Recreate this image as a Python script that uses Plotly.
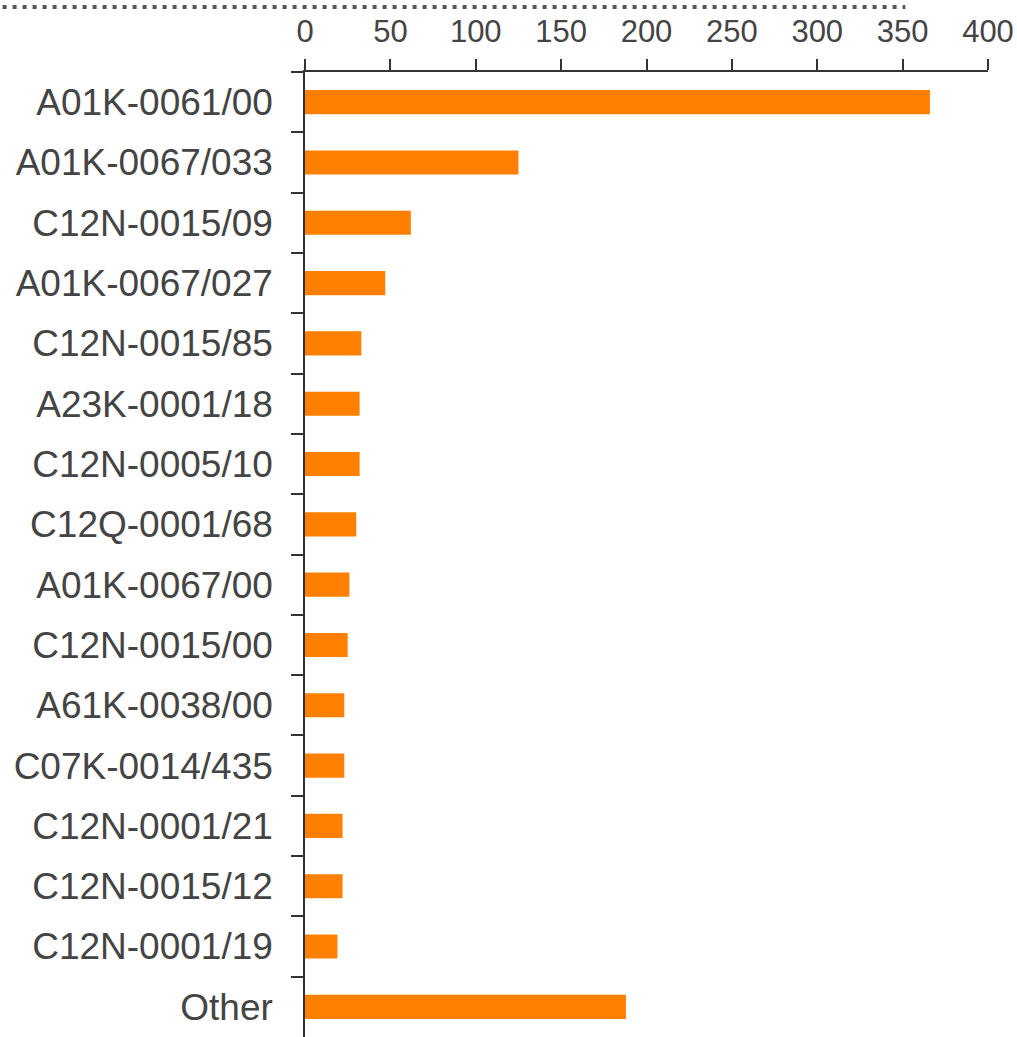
import plotly.graph_objects as go

categories = [
    "A01K-0061/00", "A01K-0067/033", "C12N-0015/09", "A01K-0067/027",
    "C12N-0015/85", "A23K-0001/18", "C12N-0005/10", "C12Q-0001/68",
    "A01K-0067/00", "C12N-0015/00", "A61K-0038/00", "C07K-0014/435",
    "C12N-0001/21", "C12N-0015/12", "C12N-0001/19", "Other",
]
values = [366, 125, 62, 47, 33, 32, 32, 30, 26, 25, 23, 23, 22, 22, 19, 188]
x_ticks = [0, 50, 100, 150, 200, 250, 300, 350, 400]

fig = go.Figure(go.Bar(
    x=values, y=categories, orientation="h",
    marker=dict(color="#ff8000", line=dict(width=0)),
    width=0.4,
))

font_family = "Arial, Liberation Sans, sans-serif"
W, H = 1017, 1037
L, R, T, B = 304.5, 29.3, 72, 0
fig.update_layout(
    width=W, height=H,
    margin=dict(l=L, r=R, t=T, b=B, pad=0),
    paper_bgcolor="white", plot_bgcolor="white",
    showlegend=False,
    font=dict(family=font_family, color="#444444"),
    xaxis=dict(
        side="top", range=[0, 400], tickvals=x_ticks,
        ticks="outside", ticklen=11, tickwidth=1.5, tickcolor="#333333",
        showline=True, linecolor="#333333", linewidth=1.5,
        showgrid=False, zeroline=False,
        tickfont=dict(size=31, color="#444444", family=font_family),
        ticklabelstandoff=5,
    ),
    yaxis=dict(
        autorange="reversed", type="category",
        ticks="outside", tickson="boundaries", ticklen=12, tickwidth=1.5,
        tickcolor="#333333",
        showline=True, linecolor="#333333", linewidth=1.5,
        showgrid=False, zeroline=False,
        tickfont=dict(size=37, color="#444444", family=font_family),
        ticklabelstandoff=23,
    ),
    shapes=[dict(
        type="line", xref="paper", yref="paper",
        x0=(2 - L) / (W - L - R), x1=(905 - L) / (W - L - R),
        y0=1 + (T - 7) / (H - T - B), y1=1 + (T - 7) / (H - T - B),
        line=dict(color="#555555", width=4, dash="4px,6px"),
    )],
)

fig.write_html(
    "out.html",
    config={"displayModeBar": False},
    post_script="document.body.style.margin='0px';document.body.style.overflow='hidden';",
)
